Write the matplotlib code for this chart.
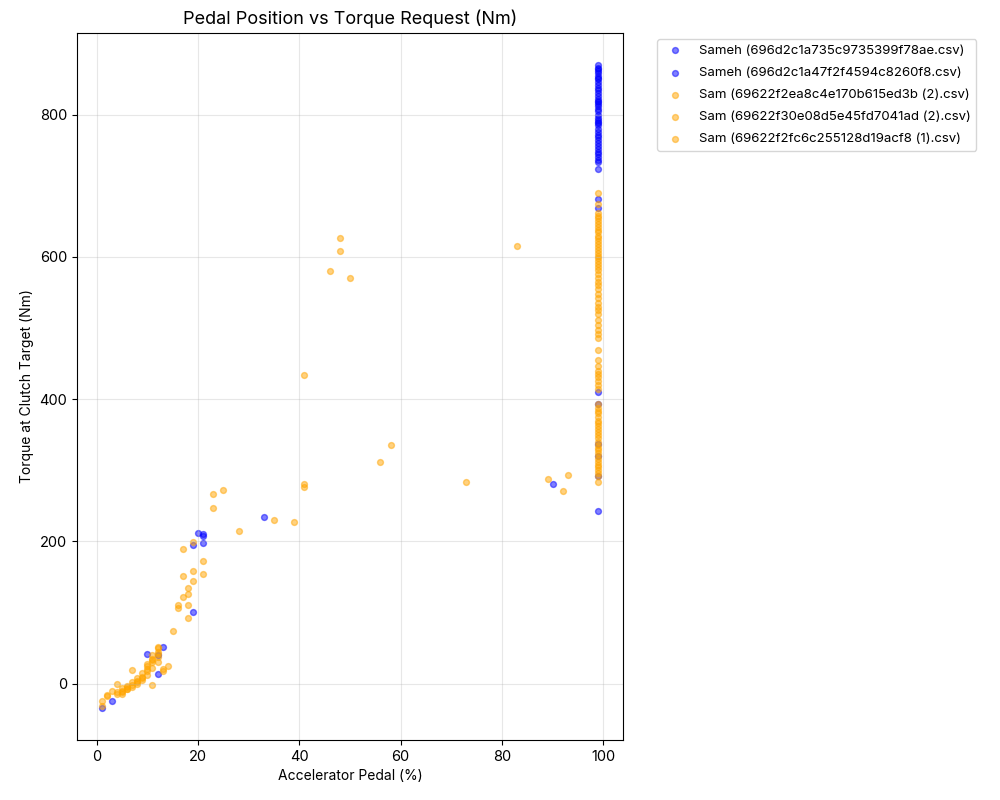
import matplotlib.pyplot as plt

plt.rcParams['font.family'] = ['Inter', 'DejaVu Sans']

# Sameh, file 1
sameh1_x = [99] * 37 + [99, 99, 99, 20, 21, 19, 21, 19, 13, 12, 3, 1]
sameh1_y = [870, 866, 862, 858, 855, 850, 846, 842, 838, 835, 830, 826, 822,
            818, 815, 812, 808, 805, 800, 796, 792, 788, 785, 780, 776, 772,
            768, 765, 760, 756, 752, 748, 745, 740, 736, 733, 723,
            681, 669, 410, 212, 210, 195, 198, 101, 52, 14, -24, -34]

# Sameh, file 2
sameh2_x = [99, 99, 99, 99, 99, 99, 99, 99, 33, 90, 99, 10, 21, 12]
sameh2_y = [864, 852, 820, 790, 393, 337, 320, 292, 235, 281, 243, 42, 207, 40]

# Sam, file 1
sam1_x = [99] * 40 + [48, 48, 46, 50, 83, 41, 41, 41, 58, 56, 73, 89, 92, 93]
sam1_y = [690, 675, 662, 658, 655, 650, 646, 642, 638, 635, 630, 626, 622,
          618, 614, 610, 606, 602, 598, 594, 590, 586, 582, 576, 570, 565,
          560, 555, 548, 542, 535, 530, 525, 520, 512, 505, 498, 492, 486, 469,
          627, 608, 580, 570, 615, 434, 281, 276, 335, 311, 283, 288, 271, 293]

# Sam, file 2
sam2_x = [99] * 34 + [25, 23, 23, 28, 35, 39, 17, 19, 21, 19, 21, 17, 19, 18,
                      18, 17, 16, 16, 18, 18, 15, 12]
sam2_y = [455, 447, 440, 435, 431, 425, 420, 415, 393, 388, 384, 380, 375,
          370, 366, 362, 358, 354, 350, 345, 340, 336, 332, 328, 324, 320,
          316, 312, 308, 304, 300, 296, 292, 283,
          273, 266, 247, 215, 230, 228, 190, 199, 172, 158, 154, 152, 145, 134,
          126, 122, 110, 106, 110, 93, 74, 52]

# Sam, file 3
sam3_x = [12, 12, 12, 11, 11, 11, 10, 10, 10, 9, 9, 8, 8, 7, 7, 7, 6, 6, 5, 5,
          4, 4, 13, 13, 11, 6, 2, 1, 1, 12, 11, 10, 9, 8, 5, 4, 3, 2, 14,
          12, 11, 10, 9, 8, 7, 6, 5]
sam3_y = [45, 38, 30, 35, 30, 22, 25, 18, 12, 10, 5, 4, 0, 2, -2, 19, -3, -8,
          -6, -10, -12, -1, 21, 18, -2, -5, -16, -24, -31, 50, 40, 28, 15, 8,
          -14, -14, -10, -18, 25,
          42, 33, 20, 8, 3, -4, -7, -12]

fig, ax = plt.subplots(figsize=(10, 8), dpi=100)
ax.scatter(sameh1_x, sameh1_y, s=18, color='blue', alpha=0.5,
           label='Sameh (696d2c1a735c9735399f78ae.csv)')
ax.scatter(sameh2_x, sameh2_y, s=18, color='blue', alpha=0.5,
           label='Sameh (696d2c1a47f2f4594c8260f8.csv)')
ax.scatter(sam1_x, sam1_y, s=18, color='orange', alpha=0.5,
           label='Sam (69622f2ea8c4e170b615ed3b (2).csv)')
ax.scatter(sam2_x, sam2_y, s=18, color='orange', alpha=0.5,
           label='Sam (69622f30e08d5e45fd7041ad (2).csv)')
ax.scatter(sam3_x, sam3_y, s=18, color='orange', alpha=0.5,
           label='Sam (69622f2fc6c255128d19acf8 (1).csv)')

ax.set_title('Pedal Position vs Torque Request (Nm)', fontsize=13)
ax.set_xlabel('Accelerator Pedal (%)', fontsize=10)
ax.set_ylabel('Torque at Clutch Target (Nm)', fontsize=10)
ax.tick_params(labelsize=10.5)
ax.set_yticks([0, 200, 400, 600, 800])
ax.grid(True, alpha=0.3)
ax.legend(loc='upper left', bbox_to_anchor=(1.05, 1), fontsize=9.5,
          labelspacing=0.75)

fig.subplots_adjust(left=0.077, right=0.623, bottom=0.075, top=0.959)
plt.savefig('out.png')
